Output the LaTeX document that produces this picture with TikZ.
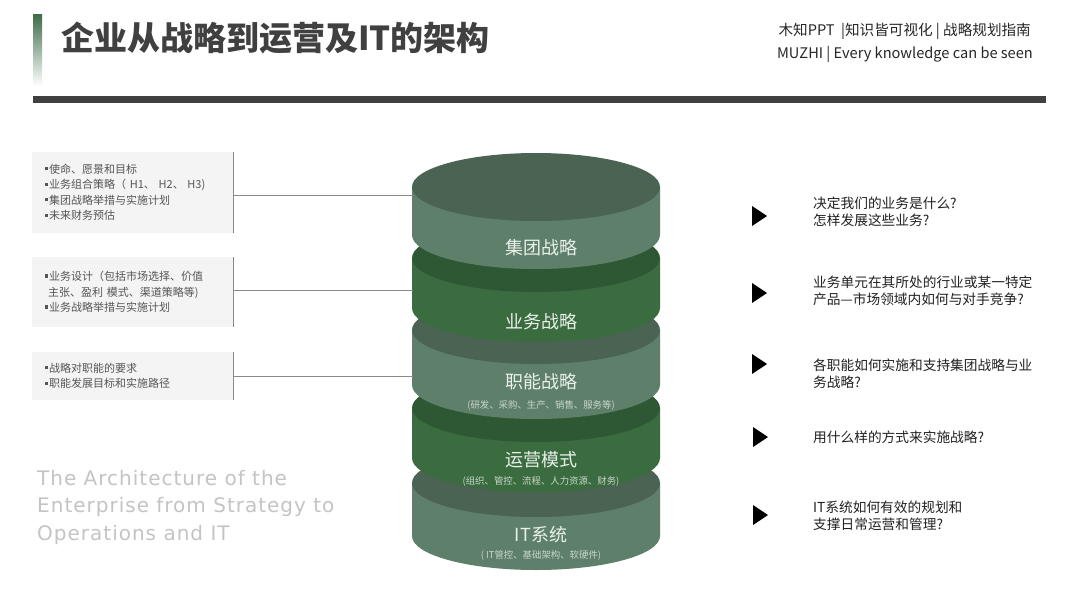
\documentclass[tikz,border=0pt]{standalone}
\usepackage{fontspec}
\setmainfont{Noto Sans CJK SC}
\newfontfamily\engfont[LetterSpace=5]{DejaVu Sans}
\usetikzlibrary{calc}
\definecolor{titlegray}{HTML}{404040}
\definecolor{boxfill}{HTML}{F4F4F4}
\definecolor{boxline}{HTML}{8A8A8A}
\definecolor{boxtext}{HTML}{555555}
\definecolor{grayTop}{HTML}{4A6352}
\definecolor{graySide}{HTML}{5E806A}
\definecolor{greenTop}{HTML}{2E5833}
\definecolor{greenSide}{HTML}{3A6C40}
\definecolor{layertext}{HTML}{EAF0EA}
\definecolor{subtext}{HTML}{C9D6CB}
\definecolor{engtext}{HTML}{C4C4C4}
\definecolor{accent}{HTML}{3D6B48}
\newcommand\bul{\raisebox{0.28em}{\rule{3.2pt}{3.2pt}}\hspace{0.8pt}}
\tikzset{
  leftbox/.style={fill=boxfill, draw=none, inner xsep=13pt, inner ysep=0pt, anchor=west, align=left, text=boxtext, font=\fontsize{11}{15.5}\selectfont},
  conn/.style={draw=boxline, line width=0.8pt},
  layerlabel/.style={text=layertext, font=\fontsize{18}{20}\selectfont, inner sep=0pt},
  layersub/.style={text=subtext, font=\fontsize{9.4}{10}\selectfont, inner sep=0pt},
  question/.style={anchor=west, align=left, text=black!87, inner sep=0pt, font=\fontsize{13.7}{17}\selectfont},
  pointer/.style={fill=black},
  brand/.style={anchor=east, inner sep=0pt, text=black!85, font=\fontsize{14.6}{16}\selectfont},
}
\newcommand\cyllayer[4]{%
  \fill[#4] (412,#1) -- (412,#2) arc[start angle=180, end angle=360, x radius=124pt, y radius=34pt] -- (660,#1) -- cycle;
  \fill[#3] (536,#1) ellipse [x radius=124pt, y radius=34pt];
}
\begin{document}
\begin{tikzpicture}[x=1pt, y=-1pt]
\useasboundingbox[fill=white] (0,0) rectangle (1080,608);
% header
\shade[top color=accent, bottom color=white] (33,14) rectangle (42,86);
\node[anchor=west, inner sep=0pt, text=titlegray, font=\bfseries\fontsize{33}{33}\selectfont] (title) at (61,38) {企业从战略到运营及IT的架构};
\node[brand] (brand1) at (1031,31) {木知PPT \ |知识皆可视化 | 战略规划指南};
\node[brand] (brand2) at (1033,54) {MUZHI | Every knowledge can be seen};
\fill[titlegray] (33,96) rectangle (1046,103);

% cylinder, bottom layer first
\cyllayer{483}{536}{grayTop}{graySide}
\cyllayer{408}{458}{greenTop}{greenSide}
\cyllayer{330}{385}{grayTop}{graySide}
\cyllayer{258}{308}{greenTop}{greenSide}
\cyllayer{187}{235}{grayTop}{graySide}

\node[layerlabel] (n1) at (541,248) {集团战略};
\node[layerlabel] (n2) at (541,322) {业务战略};
\node[layerlabel] (n3) at (541,382) {职能战略};
\node[layersub] (s3) at (541,405) {(研发、采购、生产、销售、服务等)};
\node[layerlabel] (n4) at (541,460) {运营模式};
\node[layersub] (s4) at (541,481) {(组织、管控、流程、人力资源、财务)};
\node[layerlabel] (n5) at (541,535) {IT系统};
\node[layersub] (s5) at (541,555) {( IT管控、基础架构、软硬件)};

\coordinate (c1) at (413,195);
\coordinate (c2) at (413,290);
\coordinate (c3) at (413,376);

% left boxes
\node[leftbox, minimum width=201pt, minimum height=81pt, text width=175pt] (b1) at (32,192.5)
  {\bul 使命、愿景和目标\\\bul 业务组合策略（ H1、 H2、 H3)\\\bul 集团战略举措与实施计划\\\bul 未来财务预估};
\node[leftbox, minimum width=201pt, minimum height=70pt, text width=175pt] (b2) at (32,292)
  {\bul 业务设计（包括市场选择、价值\\\hspace*{3pt}主张、盈利 模式、渠道策略等)\\\bul 业务战略举措与实施计划};
\node[leftbox, minimum width=201pt, minimum height=48pt, text width=175pt] (b3) at (32,376)
  {\bul 战略对职能的要求\\\bul 职能发展目标和实施路径};
\draw[conn] (b1.north east) -- (b1.south east);
\draw[conn] (b2.north east) -- (b2.south east);
\draw[conn] (b3.north east) -- (b3.south east);
\draw[conn] (b1.east |- c1) -- (c1);
\draw[conn] (b2.east |- c2) -- (c2);
\draw[conn] (b3.east |- c3) -- (c3);

% english caption
\node[anchor=north west, align=left, inner sep=0pt, text=engtext, font=\engfont\fontsize{20}{27.5}\selectfont] (eng) at (37,470)
  {The Architecture of the\\Enterprise from Strategy to\\Operations and IT};

% right questions
\fill[pointer] (752,206) -- (767,216) -- (752,226) -- cycle;
\fill[pointer] (752,283) -- (767,293) -- (752,303) -- cycle;
\fill[pointer] (752,354) -- (767,364) -- (752,374) -- cycle;
\fill[pointer] (753,427) -- (768,437) -- (753,447) -- cycle;
\fill[pointer] (753,505) -- (768,515) -- (753,525) -- cycle;
\node[question] (q1) at (813,211.5) {决定我们的业务是什么?\\怎样发展这些业务?};
\node[question] (q2) at (813,291) {业务单元在其所处的行业或某一特定\\产品—市场领域内如何与对手竞争?};
\node[question] (q3) at (813,373.5) {各职能如何实施和支持集团战略与业\\务战略?};
\node[question] (q4) at (813,437) {用什么样的方式来实施战略?};
\node[question] (q5) at (813,515.5) {IT系统如何有效的规划和\\支撑日常运营和管理?};
\end{tikzpicture}
\end{document}
